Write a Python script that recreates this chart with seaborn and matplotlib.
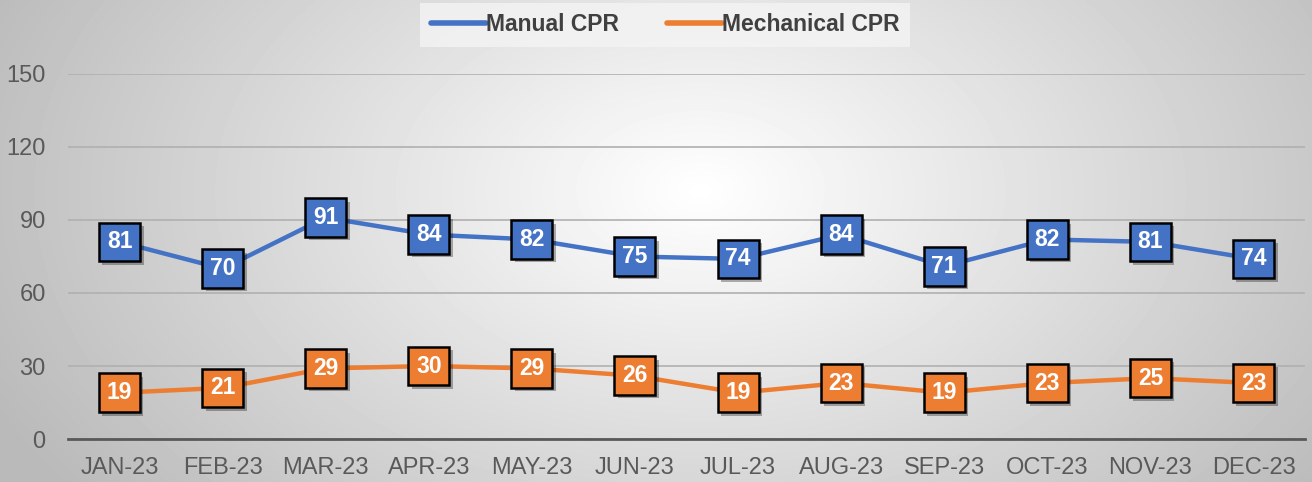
import numpy as np
import pandas as pd
import seaborn as sns
import matplotlib.pyplot as plt
import matplotlib.patheffects as pe
from matplotlib.ticker import FixedLocator

months = ['JAN-23', 'FEB-23', 'MAR-23', 'APR-23', 'MAY-23', 'JUN-23',
          'JUL-23', 'AUG-23', 'SEP-23', 'OCT-23', 'NOV-23', 'DEC-23']
manual = [81, 70, 91, 84, 82, 75, 74, 84, 71, 82, 81, 74]
mechanical = [19, 21, 29, 30, 29, 26, 19, 23, 19, 23, 25, 23]
series = ['Manual CPR', 'Mechanical CPR']
colors = ['#4472C4', '#ED7D31']

df = pd.DataFrame({
    'month': months * 2,
    'value': manual + mechanical,
    'series': [series[0]] * len(months) + [series[1]] * len(months),
})
df['pos'] = list(range(len(months))) * 2

sns.set_style('white')
plt.rcParams['font.family'] = ['Liberation Sans', 'DejaVu Sans']

fig = plt.figure(figsize=(13.12, 4.82), dpi=100)

# radial gradient background
bg = fig.add_axes([0, 0, 1, 1], zorder=-10)
h, w = 482, 1312
yy, xx = np.mgrid[0:h, 0:w]
r = np.sqrt(((xx - 700) / 780.0) ** 2 + ((yy - 190) / 500.0) ** 2)
val = 1 - 0.27 * np.clip(r, 0, 1)
bg.imshow(val, cmap='gray', vmin=0, vmax=1, aspect='auto', extent=[0, 1, 0, 1])
bg.axis('off')

ax = fig.add_axes([0.0518, 0.0892, 0.9429, 0.7573])
ax.patch.set_alpha(0)

sns.lineplot(data=df, x='pos', y='value', hue='series', palette=colors,
             linewidth=3.2, ax=ax, legend=True, zorder=3)

ax.set_xlim(-0.5, len(months) - 0.5)
ax.set_ylim(0, 150)
ax.set_yticks([0, 30, 60, 90, 120, 150])
ax.set_xticks(range(len(months)))
ax.set_xticklabels(months)
ax.xaxis.set_minor_locator(FixedLocator(np.arange(-0.5, len(months), 1)))
ax.tick_params(axis='x', which='major', length=0, pad=13, labelsize=17, labelcolor='#595959')
ax.tick_params(axis='x', which='minor', length=6, width=2, color='#595959', direction='out')
ax.tick_params(axis='y', length=0, pad=16, labelsize=17, labelcolor='#595959')
ax.set_xlabel('')
ax.set_ylabel('')
ax.grid(axis='y', color='#b0b0b0', linewidth=1.2)
ax.grid(axis='x', visible=False)
for s in ['left', 'right', 'top']:
    ax.spines[s].set_visible(False)
ax.spines['bottom'].set_color('#595959')
ax.spines['bottom'].set_linewidth(2)

# data labels
for vals, c in zip([manual, mechanical], colors):
    for i, v in enumerate(vals):
        t = ax.annotate(str(v), (i, v), ha='center', va='center', fontsize=16.5,
                        fontweight='bold', color='white', zorder=5,
                        bbox=dict(boxstyle='square,pad=0.34', fc=c, ec='black', lw=1.8))
        t.get_bbox_patch().set_path_effects([
            pe.SimplePatchShadow(offset=(2.5, -2.5), shadow_rgbFace='black', alpha=0.3),
            pe.Normal()])

leg = ax.legend(loc='upper center', bbox_to_anchor=(0.507, 1.008), bbox_transform=fig.transFigure,
                ncol=2, frameon=True, fontsize=16.5, handlelength=2.4, handletextpad=0.0,
                columnspacing=2.1, borderpad=0.45, borderaxespad=0.3, fancybox=False)
leg.get_frame().set_facecolor('#f4f4f4')
leg.get_frame().set_edgecolor('none')
for t in leg.get_texts():
    t.set_fontweight('bold')
    t.set_color('#404040')
for l in leg.get_lines():
    l.set_linewidth(4)
    l.set_solid_capstyle('round')

fig.savefig('out.png', dpi=100)
